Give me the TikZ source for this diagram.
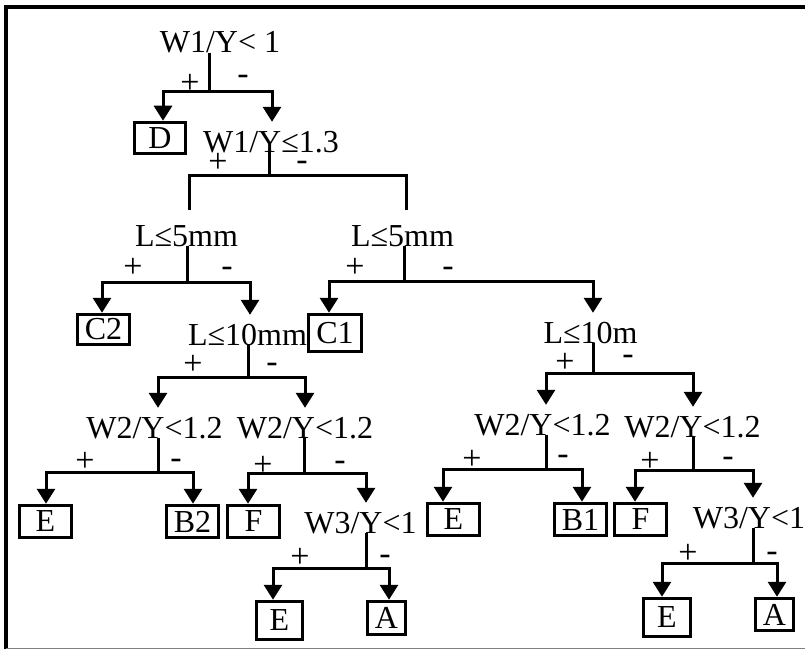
\documentclass[tikz,border=0pt]{standalone}
\usepackage{fontspec}
\setmainfont{Liberation Serif}
\usetikzlibrary{arrows.meta}
\begin{document}
\begin{tikzpicture}[x=1pt,y=-1pt,
  every node/.style={font=\fontsize{32}{36}\selectfont},
  cond/.style={inner sep=0pt, text height=22pt, text depth=0pt, anchor=base},
  leaf/.style={draw, line width=3.5pt, inner sep=0pt},
  sgn/.style={inner sep=0pt, font=\fontsize{34}{38}\selectfont},
  ln/.style={line width=3pt},
  arr/.style={line width=3pt, {Triangle[width=18pt,length=15pt]}-{Triangle[width=18pt,length=15pt]}}
]
\useasboundingbox (0,0) rectangle (805,650);
% frame
\draw[line width=4pt] (6,649) -- (6,7) -- (812,7);
\draw[gray, line width=1.5pt] (6,648.5) -- (805,648.5);

% decision labels
\node[cond] (root) at (220,53) {W1/Y< 1};
\node[cond] (n2) at (271,152) {W1/Y≤1.3};
\node[cond] (l5a) at (186.5,246) {L≤5mm};
\node[cond] (l5b) at (402.5,246) {L≤5mm};
\node[cond] (l10a) at (247.5,345) {L≤10mm};
\node[cond] (l10b) at (590.5,343) {L≤10m};
\node[cond] (w2a) at (154.5,438) {W2/Y<1.2};
\node[cond] (w2b) at (305,438) {W2/Y<1.2};
\node[cond] (w2c) at (542.5,435) {W2/Y<1.2};
\node[cond] (w2d) at (692.5,437) {W2/Y<1.2};
\node[cond] (w3a) at (360.5,533) {W3/Y<1};
\node[cond] (w3b) at (749,528) {W3/Y<1};

% leaves
\node[leaf, minimum width=51pt, minimum height=31pt] (D) at (160,138) {D};
\node[leaf, minimum width=52pt, minimum height=30pt] (C2) at (103.5,329.5) {C2};
\node[leaf, minimum width=53pt, minimum height=37pt] (C1) at (335,333) {C1};
\node[leaf, minimum width=52pt, minimum height=32pt] (E1) at (45.5,521.5) {E};
\node[leaf, minimum width=52pt, minimum height=32pt] (B2) at (192.5,521.5) {B2};
\node[leaf, minimum width=52pt, minimum height=32pt] (F1) at (253.5,521.5) {F};
\node[leaf, minimum width=46pt, minimum height=38pt] (E2) at (279.5,620.5) {E};
\node[leaf, minimum width=38pt, minimum height=33pt] (A1) at (386.5,618) {A};
\node[leaf, minimum width=52pt, minimum height=32pt] (E3) at (453.5,519.5) {E};
\node[leaf, minimum width=52pt, minimum height=32pt] (B1) at (580.5,519.5) {B1};
\node[leaf, minimum width=52pt, minimum height=32pt] (F2) at (640.5,519.5) {F};
\node[leaf, minimum width=47pt, minimum height=38pt] (E4) at (667,617.5) {E};
\node[leaf, minimum width=38pt, minimum height=32pt] (A2) at (774.5,614.5) {A};

% junction coordinates
\coordinate (rJ) at (209,92);   \coordinate (rL) at (163,92);   \coordinate (rR) at (272,92);
\coordinate (nJ) at (269,175);  \coordinate (nL) at (189,175);  \coordinate (nR) at (406,175);
\coordinate (aJ) at (187,282);  \coordinate (aL) at (102,282);  \coordinate (aR) at (250,282);
\coordinate (bJ) at (404,281);  \coordinate (bL) at (329,281);  \coordinate (bR) at (593,281);
\coordinate (cJ) at (248,377);  \coordinate (cL) at (158,377);  \coordinate (cR) at (305,377);
\coordinate (dJ) at (158,472);  \coordinate (dL) at (46,472);   \coordinate (dR) at (193,472);
\coordinate (eJ) at (304,473);  \coordinate (eL) at (248,473);  \coordinate (eR) at (366,473);
\coordinate (fJ) at (366,568);  \coordinate (fL) at (273,568);  \coordinate (fR) at (389,568);
\coordinate (gJ) at (593,373);  \coordinate (gL) at (546,373);  \coordinate (gR) at (693,373);
\coordinate (hJ) at (546,469);  \coordinate (hL) at (443,469);  \coordinate (hR) at (582,469);
\coordinate (iJ) at (693,470);  \coordinate (iL) at (635,470);  \coordinate (iR) at (753,470);
\coordinate (kJ) at (753,563);  \coordinate (kL) at (662,563);  \coordinate (kR) at (777,563);

% stems
\draw[ln] (root.base -| rJ) -- (rJ);
\draw[ln] (n2.base -| nJ) -- (nJ);
\draw[ln] (l5a.base -| aJ) -- (aJ);
\draw[ln] (l5b.base -| bJ) -- (bJ);
\draw[ln] (l10a.base -| cJ) -- (cJ);
\draw[ln] (w2a.base -| dJ) -- (dJ);
\draw[ln] (w2b.base -| eJ) -- (eJ);
\draw[ln] (w3a.base -| fJ) -- (fJ);
\draw[ln] (l10b.base -| gJ) -- (gJ);
\draw[ln] (w2c.base -| hJ) -- (hJ);
\draw[ln] (w2d.base -| iJ) -- (iJ);
\draw[ln] (w3b.base -| kJ) -- (kJ);

% bars with arrows
\draw[arr] (D.north -| rL) -- (rL) -- (rR) -- ([yshift=8pt]n2.north -| rR);
\draw[ln] ([yshift=14pt]l5a.north -| nL) -- (nL) -- (nR) -- ([yshift=14pt]l5b.north -| nR);
\draw[arr] (C2.north -| aL) -- (aL) -- (aR) -- ([yshift=8pt]l10a.north -| aR);
\draw[arr] (C1.north -| bL) -- (bL) -- (bR) -- ([yshift=8pt]l10b.north -| bR);
\draw[arr] ([yshift=8pt]w2a.north -| cL) -- (cL) -- (cR) -- ([yshift=8pt]w2b.north -| cR);
\draw[arr] (E1.north -| dL) -- (dL) -- (dR) -- (B2.north -| dR);
\draw[arr] (F1.north -| eL) -- (eL) -- (eR) -- ([yshift=8pt]w3a.north -| eR);
\draw[arr] (E2.north -| fL) -- (fL) -- (fR) -- (A1.north -| fR);
\draw[arr] ([yshift=8pt]w2c.north -| gL) -- (gL) -- (gR) -- ([yshift=8pt]w2d.north -| gR);
\draw[arr] (E3.north -| hL) -- (hL) -- (hR) -- (B1.north -| hR);
\draw[arr] (F2.north -| iL) -- (iL) -- (iR) -- ([yshift=8pt]w3b.north -| iR);
\draw[arr] (E4.north -| kL) -- (kL) -- (kR) -- (A2.north -| kR);

% signs
\node[sgn] (p0) at (190,84) {+};   \node[sgn] (m0) at (243,80) {-};
\node[sgn] (p1) at (218,163) {+};  \node[sgn] (m1) at (302,166) {-};
\node[sgn] (p2) at (133,268) {+};  \node[sgn] (m2) at (227,272) {-};
\node[sgn] (p3) at (355,268) {+};  \node[sgn] (m3) at (448,272) {-};
\node[sgn] (p4) at (193,365) {+};  \node[sgn] (m4) at (272,368) {-};
\node[sgn] (p5) at (85,462) {+};   \node[sgn] (m5) at (176,464) {-};
\node[sgn] (p6) at (263,466) {+};  \node[sgn] (m6) at (340,466) {-};
\node[sgn] (p7) at (300,558) {+};  \node[sgn] (m7) at (385,560) {-};
\node[sgn] (p8) at (565,363) {+};  \node[sgn] (m8) at (628,360) {-};
\node[sgn] (p9) at (472,460) {+};  \node[sgn] (m9) at (563,460) {-};
\node[sgn] (p10) at (650,462) {+}; \node[sgn] (m10) at (728,462) {-};
\node[sgn] (p11) at (688,554) {+}; \node[sgn] (m11) at (772,557) {-};
\end{tikzpicture}
\end{document}
